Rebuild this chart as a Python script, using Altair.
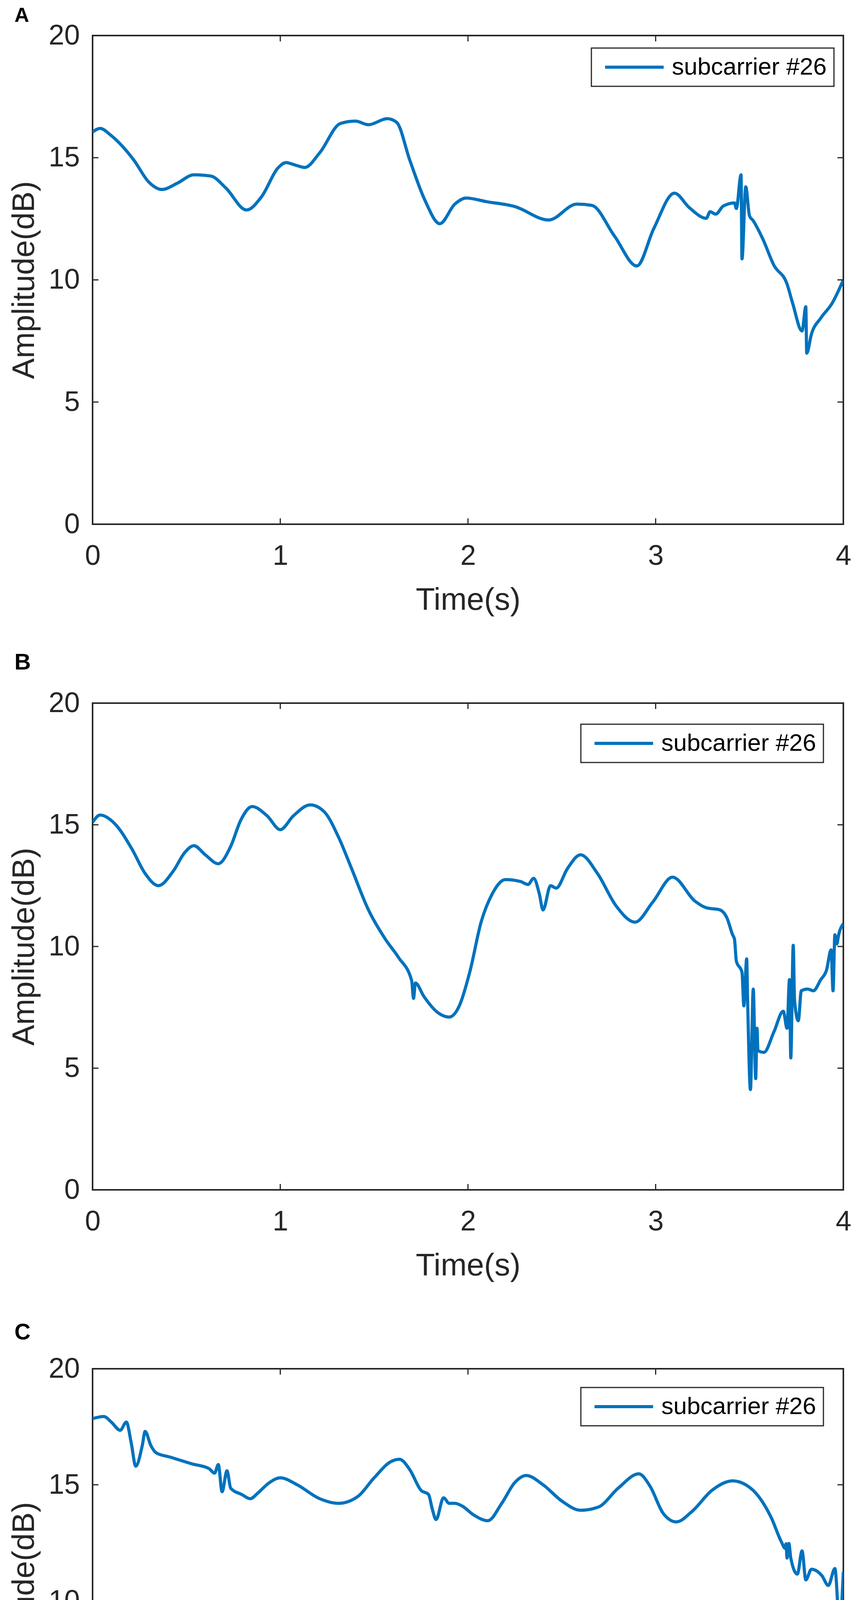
import altair as alt
import pandas as pd

PANELS = ["A", "B", "C"]
SERIES = "subcarrier #26"
X_TICKS = [0, 1, 2, 3, 4]
Y_TICKS = [0, 5, 10, 15, 20]
X_TITLE = "Time(s)"
Y_TITLE = "Amplitude(dB)"

TIME_A = [0.00, 0.04, 0.10, 0.22, 0.30, 0.37, 0.45, 0.54, 0.63, 0.71, 0.82, 0.90, 0.99, 1.03, 1.08,
          1.13, 1.21, 1.32, 1.40, 1.47, 1.57, 1.62, 1.69, 1.77, 1.85, 1.93, 1.99, 2.10, 2.25, 2.43,
          2.58, 2.66, 2.78, 2.90, 2.99, 3.10, 3.18, 3.27, 3.29, 3.32, 3.36, 3.42, 3.43, 3.455, 3.46,
          3.48, 3.50, 3.52, 3.57, 3.63, 3.70, 3.73, 3.78, 3.80, 3.805, 3.83, 3.88, 3.94, 4.00]
AMP_A = [16.05, 16.2, 15.9, 14.9, 14.0, 13.7, 13.95, 14.3, 14.25, 13.76, 12.86, 13.4, 14.6, 14.8, 14.7,
         14.6, 15.2, 16.4, 16.5, 16.35, 16.6, 16.45, 14.9, 13.27, 12.3, 13.1, 13.35, 13.2, 13.0, 12.45,
         13.1, 13.05, 11.8, 10.57, 12.1, 13.55, 12.95, 12.52, 12.79, 12.69, 13.02, 13.15, 12.92, 14.3, 10.86,
         13.81, 12.62, 12.42, 11.69, 10.6, 9.83, 9.04, 7.91, 8.9, 7.0, 7.78, 8.44, 9.04, 10.0]

TIME_B = [0.00, 0.04, 0.12, 0.21, 0.28, 0.35, 0.43, 0.49, 0.54, 0.60, 0.67, 0.735, 0.79, 0.85, 0.93,
          1.00, 1.07, 1.16, 1.235, 1.31, 1.38, 1.47, 1.56, 1.63, 1.70, 1.71, 1.72, 1.765, 1.84, 1.90,
          1.956, 2.01, 2.07, 2.13, 2.20, 2.28, 2.32, 2.35, 2.38, 2.40, 2.44, 2.47, 2.53, 2.60, 2.69,
          2.79, 2.89, 2.985, 3.09, 3.21, 3.27, 3.34, 3.38, 3.41, 3.42, 3.43, 3.46, 3.47, 3.485, 3.49,
          3.505, 3.52, 3.533, 3.54, 3.545, 3.577, 3.63, 3.68, 3.70, 3.713, 3.72, 3.733, 3.74, 3.76,
          3.776, 3.81, 3.84, 3.88, 3.91, 3.935, 3.945, 3.955, 3.965, 3.975, 4.00]
AMP_B = [15.1, 15.4, 15.03, 14.0, 13.0, 12.5, 13.1, 13.85, 14.14, 13.77, 13.4, 14.1, 15.2, 15.75, 15.37,
         14.8, 15.37, 15.82, 15.53, 14.5, 13.2, 11.5, 10.3, 9.55, 8.6, 7.87, 8.5, 7.95, 7.28, 7.1,
         7.6, 8.96, 11.0, 12.17, 12.75, 12.67, 12.55, 12.8, 12.17, 11.5, 12.5, 12.4, 13.2, 13.77, 13.0,
         11.66, 11.0, 11.83, 12.85, 11.86, 11.59, 11.51, 11.17, 10.48, 10.3, 9.4, 8.94, 7.56, 9.49, 7.79,
         4.12, 8.25, 4.57, 6.64, 5.72, 5.65, 6.49, 7.34, 6.64, 8.64, 5.42, 10.05, 7.79, 6.95,
         8.18, 8.25, 8.18, 8.64, 9.02, 9.86, 8.18, 10.48, 10.1, 10.48, 10.94]

TIME_C = [0.00, 0.06, 0.10, 0.147, 0.18, 0.206, 0.23, 0.265, 0.28, 0.31, 0.34, 0.41, 0.53, 0.62, 0.65,
          0.67, 0.69, 0.716, 0.736, 0.795, 0.84, 0.884, 0.94, 1.00, 1.09, 1.21, 1.31, 1.414, 1.50, 1.59,
          1.635, 1.69, 1.75, 1.79, 1.81, 1.83, 1.87, 1.90, 1.93, 1.97, 2.03, 2.106, 2.18, 2.25, 2.31,
          2.40, 2.50, 2.60, 2.695, 2.80, 2.91, 2.97, 3.04, 3.11, 3.195, 3.30, 3.41, 3.48, 3.536, 3.616,
          3.67, 3.69, 3.695, 3.70, 3.71, 3.72, 3.755, 3.78, 3.80, 3.83, 3.886, 3.92, 3.955, 3.98, 4.00]
AMP_C = [17.85, 17.94, 17.7, 17.35, 17.7, 16.8, 15.8, 16.7, 17.3, 16.7, 16.37, 16.2, 15.9, 15.7, 15.5,
         15.87, 14.7, 15.6, 14.85, 14.58, 14.4, 14.67, 15.08, 15.3, 15.0, 14.4, 14.2, 14.5, 15.3, 16.0,
         16.1, 15.65, 14.76, 14.58, 13.95, 13.5, 14.44, 14.2, 14.2, 14.08, 13.7, 13.45, 14.2, 15.1, 15.4,
         15.0, 14.3, 13.9, 14.04, 14.85, 15.47, 14.94, 13.77, 13.4, 13.86, 14.76, 15.17, 15.0, 14.62, 13.58,
         12.54, 12.26, 12.46, 11.84, 12.47, 11.84, 11.15, 12.15, 10.9, 11.36, 11.08, 10.66, 11.39, 8.96, 11.25]

LINE_COLOR = "#0072BD"
INK = "#262626"
FONT = "Liberation Sans"

W = 1922
HEIGHTS = [1251, 1246, 1188]
LEGEND_POS = [(1277, 32), (1250, 54), (1250, 48)]
LETTER_Y = [-35, -86, -75]
LETTER_SIZE = [52, 58, 57]
TITLE_PAD = [38, 38, 30]
TICK_LEN = 15


def panel(i, times, amps):
    h = HEIGHTS[i]
    df = pd.DataFrame({"t": times, "amp": amps, "series": SERIES})
    line = alt.Chart(df).mark_line(strokeWidth=8, interpolate="monotone", clip=True).encode(
        x=alt.X("t:Q", scale=alt.Scale(domain=[0, 4], nice=False, zero=False),
                axis=alt.Axis(values=X_TICKS, title=X_TITLE, labelPadding=46, titlePadding=TITLE_PAD[i],
                              labelFlush=False, format="d")),
        y=alt.Y("amp:Q", scale=alt.Scale(domain=[0, 20], nice=False),
                axis=alt.Axis(values=Y_TICKS, title=Y_TITLE, labelPadding=33, titlePadding=20,
                              format="d")),
        color=alt.Color("series:N", scale=alt.Scale(domain=[SERIES], range=[LINE_COLOR]),
                        legend=alt.Legend(orient="none", legendX=LEGEND_POS[i][0],
                                          legendY=LEGEND_POS[i][1], title=None)),
    )
    xt = pd.DataFrame({"t": X_TICKS[1:-1]})
    yt = pd.DataFrame({"amp": Y_TICKS[1:-1]})
    rule = dict(color=INK, strokeWidth=3)
    xb = alt.Chart(xt).mark_rule(**rule).encode(x="t:Q", y=alt.value(h), y2=alt.value(h - TICK_LEN))
    xtp = alt.Chart(xt).mark_rule(**rule).encode(x="t:Q", y=alt.value(0), y2=alt.value(TICK_LEN))
    yl = alt.Chart(yt).mark_rule(**rule).encode(y="amp:Q", x=alt.value(0), x2=alt.value(TICK_LEN))
    yr = alt.Chart(yt).mark_rule(**rule).encode(y="amp:Q", x=alt.value(W - TICK_LEN), x2=alt.value(W))
    lab = alt.Chart(pd.DataFrame({"label": [PANELS[i]]})).mark_text(
        font=FONT, fontSize=LETTER_SIZE[i], fontWeight="bold", color="#000000", align="left",
        baseline="alphabetic"
    ).encode(text="label:N", x=alt.value(-200), y=alt.value(LETTER_Y[i]))
    return alt.layer(line, xb, xtp, yl, yr, lab).properties(width=W, height=h)


data = [(TIME_A, AMP_A), (TIME_B, AMP_B), (TIME_C, AMP_C)]
panels = [panel(i, data[i][0], data[i][1]) for i in range(3)]

chart = alt.vconcat(*panels, spacing=458, bounds="flush").resolve_scale(
    color="independent"
).resolve_legend(color="independent").properties(
    padding={"left": 12, "top": 4, "right": 0, "bottom": 0}
).configure_view(
    stroke=INK, strokeWidth=4
).configure_axis(
    labelFont=FONT, titleFont=FONT, labelFontSize=72, titleFontSize=80, labelColor=INK,
    titleColor=INK, titleFontWeight="normal", domain=False, ticks=False, grid=False
).configure_legend(
    labelFont=FONT, labelFontSize=62, labelColor="#000000", symbolType="M-3,0H3",
    symbolStrokeWidth=8, symbolSize=2500, symbolOffset=61, padding=18, labelOffset=65,
    labelLimit=0, strokeColor=INK, strokeWidth=3, fillColor="#ffffff", cornerRadius=0
)

chart.save("out.html", embed_options={"renderer": "svg", "actions": False})
